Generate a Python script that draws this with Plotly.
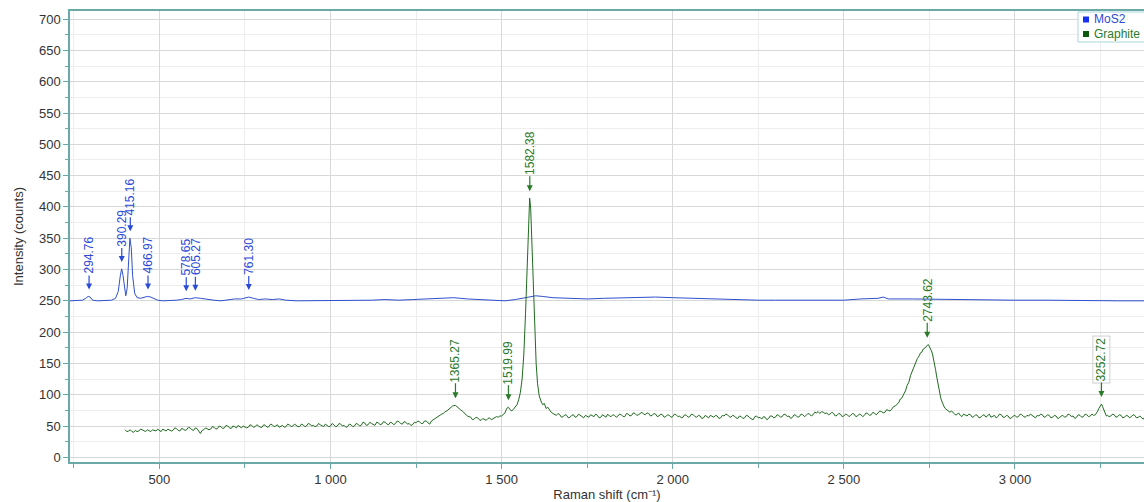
import plotly.graph_objects as go

# ---------------- data ----------------
mos2_points = [
    (239, 250), (260, 250), (275, 251), (285, 254), (292, 257), (298, 256), (305, 251),
    (320, 250), (340, 250), (360, 251), (372, 254), (380, 265), (386, 290), (390, 301),
    (394, 290), (398, 268), (402, 258), (406, 270), (410, 320), (414, 350), (418, 335),
    (422, 290), (428, 262), (435, 255), (445, 254), (455, 255), (465, 257), (475, 256),
    (485, 253), (495, 251), (510, 250), (530, 250), (550, 251), (565, 252), (578, 254),
    (590, 253), (605, 255), (620, 254), (640, 252), (660, 251), (680, 250), (700, 252),
    (720, 253), (740, 253), (761, 256), (775, 254), (790, 252), (810, 253), (830, 252),
    (850, 253), (870, 251), (900, 250), (930, 250), (960, 251), (1000, 250), (1040, 250),
    (1080, 251), (1120, 251), (1160, 252), (1200, 251), (1240, 252), (1280, 253),
    (1320, 254), (1360, 255), (1400, 253), (1440, 252), (1480, 250), (1510, 250),
    (1540, 252), (1570, 255), (1600, 258), (1620, 257), (1650, 255), (1700, 254),
    (1750, 253), (1800, 254), (1850, 255), (1900, 256), (1950, 256), (2000, 255),
    (2050, 254), (2100, 254), (2150, 253), (2200, 252), (2250, 251), (2300, 251),
    (2350, 251), (2400, 250), (2450, 250), (2500, 251), (2550, 253), (2600, 254),
    (2615, 256), (2630, 253), (2700, 253), (2800, 252), (2900, 251), (3000, 251),
    (3100, 251), (3200, 250), (3300, 250), (3390, 250),
]

graphite_points = [
    (400, 44), (405, 41), (410, 42), (415, 44), (420, 41), (425, 40), (430, 43), (435, 41),
    (440, 42), (445, 45), (450, 44), (455, 42), (460, 41), (465, 44), (470, 43), (475, 41),
    (480, 44), (485, 43), (490, 42), (495, 45), (500, 43), (505, 41), (510, 45), (515, 43),
    (520, 42), (525, 45), (530, 44), (535, 42), (540, 43), (545, 47), (550, 46), (555, 43),
    (560, 42), (565, 46), (570, 45), (575, 43), (580, 44), (585, 48), (590, 47), (595, 44),
    (600, 43), (605, 47), (610, 46), (615, 41), (620, 38), (625, 43), (630, 44), (635, 47),
    (640, 46), (645, 44), (650, 45), (655, 49), (660, 48), (665, 45), (670, 46), (675, 50),
    (680, 49), (685, 46), (690, 47), (695, 51), (700, 50), (705, 47), (710, 46), (715, 50),
    (720, 49), (725, 47), (730, 51), (735, 49), (740, 47), (745, 50), (750, 49), (755, 47),
    (760, 48), (765, 52), (770, 51), (775, 48), (780, 49), (785, 52), (790, 50), (795, 48),
    (800, 48), (805, 52), (810, 51), (815, 48), (820, 49), (825, 53), (830, 52), (835, 49),
    (840, 50), (845, 52), (850, 48), (855, 50), (860, 51), (865, 48), (870, 49), (875, 53),
    (880, 52), (885, 49), (890, 50), (895, 53), (900, 51), (905, 49), (910, 49), (915, 53),
    (920, 52), (925, 49), (930, 50), (935, 54), (940, 53), (945, 50), (950, 51), (955, 49),
    (960, 50), (965, 54), (970, 52), (975, 50), (980, 49), (985, 53), (990, 51), (995, 49),
    (1000, 50), (1005, 54), (1010, 52), (1015, 49), (1020, 50), (1025, 54), (1030, 53),
    (1035, 50), (1040, 51), (1045, 48), (1050, 49), (1055, 53), (1060, 52), (1065, 49),
    (1070, 50), (1075, 54), (1080, 53), (1085, 50), (1090, 51), (1095, 56), (1100, 55),
    (1105, 51), (1110, 52), (1115, 56), (1120, 54), (1125, 52), (1130, 51), (1135, 56),
    (1140, 55), (1145, 52), (1150, 53), (1155, 57), (1160, 56), (1165, 53), (1170, 52),
    (1175, 56), (1180, 55), (1185, 52), (1190, 54), (1195, 58), (1200, 57), (1205, 54),
    (1210, 53), (1215, 57), (1220, 56), (1225, 53), (1230, 54), (1235, 51), (1240, 52),
    (1245, 56), (1250, 55), (1255, 58), (1260, 57), (1265, 54), (1270, 54), (1275, 58),
    (1280, 58), (1285, 55), (1290, 53), (1295, 58), (1300, 60), (1305, 62), (1310, 63),
    (1315, 66), (1320, 67), (1325, 69), (1330, 70), (1335, 73), (1340, 74), (1345, 76),
    (1350, 78), (1357, 82), (1365, 83), (1372, 79), (1380, 76), (1385, 74), (1390, 71),
    (1395, 68), (1400, 66), (1405, 65), (1410, 64), (1415, 60), (1420, 61), (1425, 64),
    (1430, 63), (1435, 60), (1440, 59), (1445, 62), (1450, 61), (1455, 59), (1460, 62),
    (1465, 63), (1470, 60), (1475, 62), (1480, 63), (1485, 65), (1490, 64), (1495, 66),
    (1500, 66), (1505, 69), (1510, 71), (1515, 78), (1520, 80), (1525, 76), (1530, 74),
    (1535, 77), (1540, 80), (1545, 84), (1550, 92), (1555, 104), (1560, 125), (1565, 165),
    (1570, 230), (1575, 320), (1579, 395), (1582, 414), (1585, 398), (1589, 335),
    (1593, 265), (1597, 200), (1601, 150), (1605, 118), (1610, 98), (1615, 90), (1620, 84),
    (1625, 86), (1630, 78), (1635, 80), (1640, 75), (1645, 72), (1650, 70), (1655, 68),
    (1660, 67), (1665, 70), (1670, 68), (1675, 64), (1680, 65), (1685, 68), (1690, 67),
    (1695, 63), (1700, 64), (1705, 67), (1710, 68), (1715, 64), (1720, 65), (1725, 69),
    (1730, 67), (1735, 64), (1740, 63), (1745, 67), (1750, 66), (1755, 64), (1760, 68),
    (1765, 66), (1770, 65), (1775, 69), (1780, 67), (1785, 63), (1790, 64), (1795, 68),
    (1800, 66), (1805, 64), (1810, 69), (1815, 66), (1820, 65), (1825, 68), (1830, 67),
    (1835, 64), (1840, 66), (1845, 69), (1850, 68), (1855, 65), (1860, 65), (1865, 70),
    (1870, 69), (1875, 66), (1880, 67), (1885, 71), (1890, 70), (1895, 67), (1900, 68),
    (1905, 70), (1910, 72), (1915, 69), (1920, 68), (1925, 71), (1930, 70), (1935, 66),
    (1940, 67), (1945, 70), (1950, 69), (1955, 65), (1960, 66), (1965, 69), (1970, 68),
    (1975, 64), (1980, 65), (1985, 68), (1990, 67), (1995, 64), (2000, 65), (2005, 69),
    (2010, 68), (2015, 65), (2020, 66), (2025, 63), (2030, 64), (2035, 68), (2040, 67),
    (2045, 64), (2050, 65), (2055, 69), (2060, 68), (2065, 65), (2070, 64), (2075, 67),
    (2080, 66), (2085, 62), (2090, 63), (2095, 67), (2100, 65), (2105, 63), (2110, 67),
    (2115, 65), (2120, 64), (2125, 67), (2130, 66), (2135, 62), (2140, 63), (2145, 67),
    (2150, 66), (2155, 69), (2160, 68), (2165, 65), (2170, 64), (2175, 67), (2180, 66),
    (2185, 63), (2190, 62), (2195, 66), (2200, 65), (2205, 62), (2210, 63), (2215, 67),
    (2220, 66), (2225, 63), (2230, 62), (2235, 60), (2240, 65), (2245, 66), (2250, 63),
    (2255, 64), (2260, 61), (2265, 65), (2270, 64), (2275, 60), (2280, 62), (2285, 66),
    (2290, 66), (2295, 63), (2300, 64), (2305, 68), (2310, 67), (2315, 64), (2320, 65),
    (2325, 69), (2330, 68), (2335, 65), (2340, 66), (2345, 62), (2350, 64), (2355, 68),
    (2360, 67), (2365, 64), (2370, 65), (2375, 69), (2380, 68), (2385, 65), (2390, 67),
    (2395, 70), (2400, 69), (2405, 66), (2410, 68), (2415, 72), (2420, 71), (2425, 73),
    (2430, 70), (2435, 73), (2440, 72), (2445, 70), (2450, 71), (2455, 68), (2460, 69),
    (2465, 72), (2470, 70), (2475, 66), (2480, 67), (2485, 70), (2490, 69), (2495, 65),
    (2500, 66), (2505, 69), (2510, 68), (2515, 65), (2520, 67), (2525, 70), (2530, 69),
    (2535, 65), (2540, 66), (2545, 69), (2550, 68), (2555, 65), (2560, 67), (2565, 71),
    (2570, 70), (2575, 67), (2580, 68), (2585, 72), (2590, 70), (2595, 68), (2600, 71),
    (2605, 74), (2610, 73), (2615, 71), (2620, 72), (2625, 76), (2630, 75), (2635, 74),
    (2640, 77), (2645, 81), (2650, 82), (2655, 84), (2660, 87), (2665, 93), (2670, 95),
    (2675, 101), (2680, 106), (2685, 115), (2690, 120), (2695, 131), (2700, 138),
    (2705, 147), (2710, 152), (2715, 158), (2720, 162), (2724, 167), (2728, 168),
    (2732, 173), (2736, 174), (2740, 177), (2744, 179), (2747, 180), (2750, 177),
    (2753, 175), (2756, 170), (2759, 165), (2762, 158), (2765, 150), (2768, 140),
    (2771, 130), (2774, 120), (2777, 110), (2780, 102), (2783, 95), (2786, 90), (2789, 84),
    (2792, 82), (2796, 78), (2800, 76), (2805, 75), (2810, 72), (2815, 74), (2820, 70),
    (2825, 68), (2830, 68), (2835, 71), (2840, 67), (2845, 65), (2850, 69), (2855, 67),
    (2860, 66), (2865, 69), (2870, 68), (2875, 64), (2880, 65), (2885, 68), (2890, 67),
    (2895, 63), (2900, 64), (2905, 67), (2910, 68), (2915, 64), (2920, 66), (2925, 69),
    (2930, 64), (2935, 66), (2940, 67), (2945, 63), (2950, 65), (2955, 69), (2960, 68),
    (2965, 64), (2970, 64), (2975, 67), (2980, 66), (2985, 62), (2990, 63), (2995, 66),
    (3000, 67), (3005, 64), (3010, 65), (3015, 69), (3020, 68), (3025, 65), (3030, 64),
    (3035, 67), (3040, 66), (3045, 69), (3050, 67), (3055, 64), (3060, 63), (3065, 67),
    (3070, 66), (3075, 69), (3080, 68), (3085, 64), (3090, 65), (3095, 68), (3100, 67),
    (3105, 63), (3110, 64), (3115, 67), (3120, 66), (3125, 62), (3130, 63), (3135, 66),
    (3140, 67), (3145, 64), (3150, 65), (3155, 69), (3160, 68), (3165, 65), (3170, 66),
    (3175, 62), (3180, 64), (3185, 68), (3190, 67), (3195, 64), (3200, 65), (3205, 69),
    (3210, 68), (3215, 65), (3220, 66), (3225, 69), (3230, 67), (3235, 68), (3238, 70),
    (3242, 74), (3245, 78), (3250, 84), (3253, 85), (3256, 81), (3258, 78), (3261, 73),
    (3264, 70), (3267, 66), (3270, 67), (3275, 65), (3280, 66), (3285, 69), (3290, 68),
    (3295, 64), (3300, 65), (3305, 68), (3310, 67), (3315, 63), (3320, 64), (3325, 67),
    (3330, 66), (3335, 63), (3340, 65), (3345, 68), (3350, 67), (3355, 63), (3360, 64),
    (3365, 66), (3370, 63), (3375, 61), (3380, 65), (3385, 66), (3390, 64),
]

mos2_peak_x = [294.76, 390.29, 415.16, 466.97, 578.65, 605.27, 761.30]
mos2_peak_y = [257, 301, 350, 257, 254, 255, 256]
graphite_peak_x = [1365.27, 1519.99, 1582.38, 2743.62, 3252.72]
graphite_peak_y = [83, 80, 414, 180, 85]

series_names = ["MoS2", "Graphite"]
x_title = "Raman shift (cm⁻¹)"
y_title = "Intensity (counts)"

# ---------------- styles ----------------
BLUE_LINE = "#3050cc"
BLUE_TEXT = "#2a4ad8"
BLUE_SQ = "#1530ee"
GREEN_LINE = "#1f6b1f"
GREEN_TEXT = "#2a7a2a"
GREEN_SQ = "#0b5a0b"
TEAL = "#6aa9a5"
FONT = "Liberation Sans, Arial, sans-serif"

W, H = 1144, 502
ML, MR, MT, MB = 70, 0, 11, 40
PW, PH = W - ML - MR, H - MT - MB


def px_x(p):
    return (p - ML) / PW


def px_y(p):
    return (H - MB - p) / PH


mx, my = zip(*mos2_points)
gx, gy = zip(*graphite_points)

fig = go.Figure()
fig.add_trace(go.Scatter(x=list(mx), y=list(my), mode="lines",
                         line=dict(color=BLUE_LINE, width=1.0), showlegend=False,
                         name=series_names[0]))
fig.add_trace(go.Scatter(x=list(gx), y=list(gy), mode="lines",
                         line=dict(color=GREEN_LINE, width=1.0), showlegend=False,
                         name=series_names[1]))

annotations = []
for px, py in zip(mos2_peak_x, mos2_peak_y):
    annotations.append(dict(
        x=px, y=py, xref="x", yref="y", text=f"{px:.2f}", textangle=-90,
        showarrow=True, arrowhead=2, arrowsize=1, arrowwidth=1.2,
        arrowcolor=BLUE_TEXT, ax=0, ay=-41, standoff=7, borderpad=1,
        font=dict(family=FONT, size=12, color=BLUE_TEXT)))
for i, (px, py) in enumerate(zip(graphite_peak_x, graphite_peak_y)):
    boxed = i == len(graphite_peak_x) - 1
    annotations.append(dict(
        x=px, y=py, xref="x", yref="y", text=f"{px:.2f}", textangle=-90,
        showarrow=True, arrowhead=2, arrowsize=1, arrowwidth=1.2,
        arrowcolor=GREEN_TEXT, ax=0, ay=-45, standoff=7, borderpad=1,
        bordercolor="#cfcfcf" if boxed else None, borderwidth=1 if boxed else 0,
        font=dict(family=FONT, size=12, color=GREEN_TEXT)))

# legend drawn by hand (partly cut by the right edge, as in the reference)
shapes = [dict(type="rect", xref="paper", yref="paper",
               x0=px_x(1078), x1=px_x(1160), y0=px_y(42), y1=px_y(12),
               line=dict(color="#a9d6dd", width=1), fillcolor="white", layer="above")]
for k, (name, sq, tc) in enumerate([(series_names[0], BLUE_SQ, BLUE_TEXT),
                                    (series_names[1], GREEN_SQ, GREEN_TEXT)]):
    cy = 19.5 + 14.5 * k
    shapes.append(dict(type="rect", xref="paper", yref="paper",
                       x0=px_x(1083), x1=px_x(1089), y0=px_y(cy + 3), y1=px_y(cy - 3),
                       line=dict(width=0), fillcolor=sq, layer="above"))
    annotations.append(dict(x=px_x(1092), y=px_y(cy), xref="paper", yref="paper",
                            xanchor="left", yanchor="middle", showarrow=False,
                            text=name, font=dict(family=FONT, size=12, color=tc)))

fig.update_layout(
    width=W, height=H,
    margin=dict(l=ML, r=MR, t=MT, b=MB, autoexpand=False),
    plot_bgcolor="white", paper_bgcolor="white",
    font=dict(family=FONT, size=13, color="#333333"),
    separators=". ",
    showlegend=False,
    annotations=annotations,
    shapes=shapes,
    xaxis=dict(
        range=[239, 3377], tick0=0, dtick=500, separatethousands=True,
        showgrid=True, gridcolor="#d8d8d8", gridwidth=1, zeroline=False,
        showline=True, linecolor=TEAL, linewidth=1.5, mirror=True,
        ticks="outside", ticklen=5, tickcolor=TEAL,
        tickfont=dict(size=13, color="#333333"),
        minor=dict(tick0=0, dtick=250, showgrid=True, gridcolor="#eeeeee",
                   ticks="outside", ticklen=4, tickcolor=TEAL),
        title=dict(text=x_title, font=dict(size=13, color="#333333"), standoff=4),
    ),
    yaxis=dict(
        range=[-7.5, 713], tick0=0, dtick=50,
        showgrid=True, gridcolor="#d8d8d8", gridwidth=1, zeroline=False,
        showline=True, linecolor=TEAL, linewidth=1.5,
        ticks="outside", ticklen=5, tickcolor=TEAL,
        tickfont=dict(size=13, color="#333333"),
        minor=dict(tick0=0, dtick=25, showgrid=True, gridcolor="#eeeeee",
                   ticks="outside", ticklen=3, tickcolor=TEAL),
        title=dict(text=y_title, font=dict(size=13, color="#333333"), standoff=12),
    ),
)

fig.write_html("out.html")
